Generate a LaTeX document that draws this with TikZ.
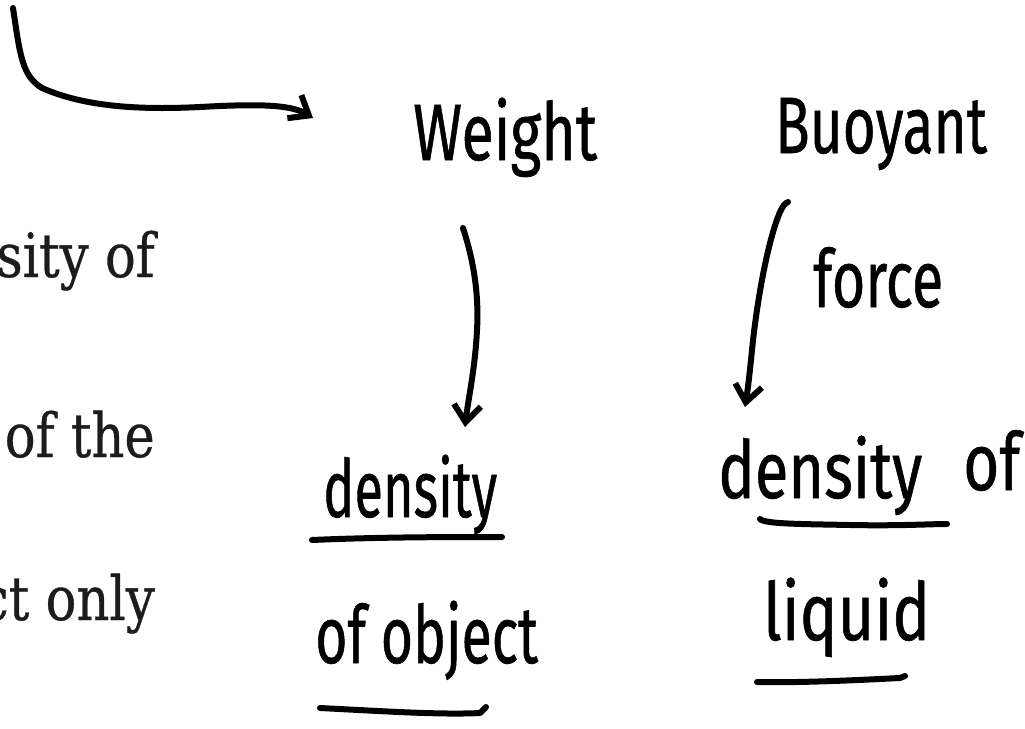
\documentclass[tikz,border=0pt]{standalone}
\usepackage{fontspec}
\setmainfont[FakeBold=0.6]{DejaVu Serif}
\newfontfamily\handfont[FakeBold=0.8]{Fira Sans}
\usetikzlibrary{arrows.meta}
% handwritten word squeezed to a given width, height kept
\newcommand{\hw}[2]{\resizebox{#1pt}{\height}{\handfont\fontsize{80}{90}\selectfont #2}}
% printed line of the page, slightly condensed
\newcommand{\pr}[1]{\scalebox{0.84}[1]{\fontsize{61}{70}\selectfont #1}}
\definecolor{ink}{HTML}{1C1C1C}
\begin{document}
\begin{tikzpicture}[x=1pt,y=-1pt,
  hand/.style={inner sep=0pt, anchor=base west, text=black},
  print/.style={inner sep=0pt, anchor=base east, text=ink},
  pen/.style={line width=6pt, line cap=round, line join=round, draw=black},
  barb/.style={-{Straight Barb[length=17pt,width=27pt]}}]
\path[use as bounding box] (0,0) rectangle (1025,728);

% printed lines of the page on the left
\node[print] (p1) at (155,277) {\pr{sity of}};
\node[print] (p2) at (155,457) {\pr{of the}};
\node[print] (p3) at (155,620) {\pr{ct only}};

% handwritten words
\node[hand] (weight) at (413,160) {\hw{184}{Weight}};
\node[hand] (densL)  at (323,517) {\hw{174}{density}};
\node[hand] (objL)   at (315,663) {\hw{223}{of object}};
\node[hand] (buoy)   at (775,153) {\hw{212}{Buoyant}};
\node[hand] (force)  at (813,307) {\hw{130}{force}};
\node[hand] (densR)  at (718,498) {\hw{204}{density}};
\node[hand] (ofR)    at (963,490) {\hw{57}{of}};
\node[hand] (liquid) at (763,640) {\hw{167}{liquid}};

% curved arrow coming in from above
\coordinate (src) at (13,8);
\draw[pen, barb] (src) .. controls (20,55) and (22,76) .. (42,88)
  .. controls (85,107) and (140,110) .. (200,107)
  .. controls (255,104) and (290,104) .. ([shift={(-100,-42)}]weight.base west);

% Weight -> density of object
\draw[pen, barb] ([shift={(50,68)}]weight.base west)
  .. controls (474,262) and (479,295) .. (477,330)
  .. controls (475,370) and (468,400) .. ([shift={(142,-90)}]densL.base west);

% Buoyant force -> density of liquid
\draw[pen, barb] ([shift={(13,49)}]buoy.base west)
  .. controls (785,203) and (783,206) .. (780,212)
  .. controls (768,240) and (757,300) .. (752,350)
  .. controls (749,380) and (747,395) .. ([shift={(27,-91)}]densR.base west);

% underlines
\draw[pen] (312,540) .. controls (380,537) and (450,537) .. (502,537);
\draw[pen] (320,708) .. controls (380,711) and (440,715) .. (480,713) -- (486,707);
\draw[pen] (760,519) .. controls (765,524) and (800,524) .. (850,525)
  .. controls (900,526) and (930,524) .. (947,524);
\draw[pen] (757,682) .. controls (800,683) and (860,680) .. (900,678) -- (905,676);
\end{tikzpicture}
\end{document}
